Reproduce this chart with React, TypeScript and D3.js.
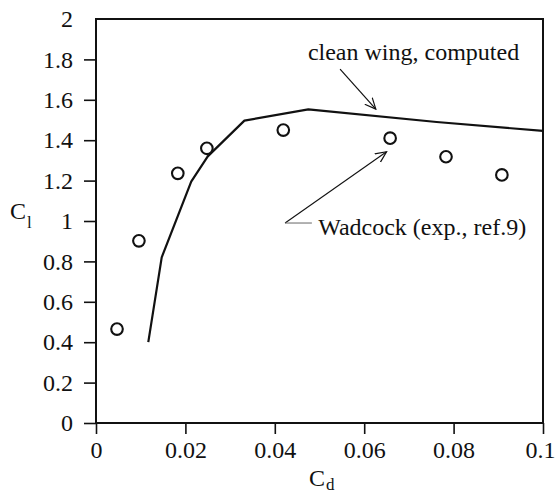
import { useEffect, useRef } from "react";
import * as d3 from "d3";

const width = 556;
const height = 495;
const marginLeft = 96;
const marginRight = 13;
const marginTop = 19;
const marginBottom = 72;

// Wadcock experiment (circles)
const expCd = [0.0047, 0.0096, 0.0183, 0.0248, 0.0419, 0.0658, 0.0783, 0.0908];
const expCl = [0.465, 0.902, 1.236, 1.36, 1.45, 1.41, 1.318, 1.228];

// clean wing, computed (line)
const compCd = [0.0117, 0.0147, 0.0213, 0.025, 0.0332, 0.0475, 0.0762, 0.1];
const compCl = [0.4, 0.82, 1.195, 1.32, 1.497, 1.553, 1.49, 1.446];

const xTicks = [0, 0.02, 0.04, 0.06, 0.08, 0.1];
const yTicks = [0, 0.2, 0.4, 0.6, 0.8, 1, 1.2, 1.4, 1.6, 1.8, 2];

const font = "'Liberation Serif', 'Times New Roman', serif";
const fontSize = 24;

const App = () => {
	const xRef = useRef<SVGGElement>(null);
	const yRef = useRef<SVGGElement>(null);

	const x = d3
		.scaleLinear()
		.domain([0, 0.1])
		.range([marginLeft, width - marginRight]);
	const y = d3
		.scaleLinear()
		.domain([0, 2])
		.range([height - marginBottom, marginTop]);

	useEffect(() => {
		const xAxis = d3
			.axisBottom(x)
			.tickValues(xTicks)
			.tickSize(11)
			.tickPadding(7)
			.tickFormat((d) => String(+d));
		const yAxis = d3
			.axisLeft(y)
			.tickValues(yTicks)
			.tickSize(12)
			.tickPadding(11)
			.tickFormat((d) => String(+d));

		const gx = d3.select(xRef.current).call(xAxis);
		const gy = d3.select(yRef.current).call(yAxis);
		for (const g of [gx, gy]) {
			g.select(".domain").remove();
			g.selectAll("line").attr("stroke", "#111").attr("stroke-width", 1.6);
			g.selectAll("text")
				.attr("fill", "#111")
				.style("font-family", font)
				.style("font-size", `${fontSize}px`);
		}
		// keep the last x label inside the page
		gx.selectAll<SVGGElement, number>(".tick")
			.filter((d) => d === 0.1)
			.select("text")
			.attr("dx", -3);
		// no tick mark at the top value
		gy.selectAll<SVGGElement, number>(".tick")
			.filter((d) => d === 2)
			.select("line")
			.remove();
	}, []);

	const line = d3
		.line<number>()
		.x((d) => x(d))
		.y((_, i) => y(compCl[i]));

	return (
		<svg width={width} height={height} style={{ display: "block", position: "absolute", left: 0, top: 0 }}>
			<defs>
				<marker
					id="arrow"
					viewBox="0 0 12 12"
					refX={11}
					refY={6}
					markerWidth={12}
					markerHeight={12}
					markerUnits="userSpaceOnUse"
					orient="auto"
				>
					<path d="M0,1 L11,6 L0,11" fill="none" stroke="#111" strokeWidth={1.2} />
				</marker>
			</defs>
			<rect width={width} height={height} fill="#fff" />
			<rect
				x={x(0)}
				y={y(2)}
				width={x(0.1) - x(0)}
				height={y(0) - y(2)}
				fill="none"
				stroke="#111"
				strokeWidth={2}
			/>
			<g ref={xRef} transform={`translate(0,${y(0)})`} />
			<g ref={yRef} transform={`translate(${x(0)},0)`} />

			<path d={line(compCd) ?? ""} fill="none" stroke="#111" strokeWidth={2.2} strokeLinejoin="round" />

			{expCd.map((d, i) => (
				<circle key={i} cx={x(d)} cy={y(expCl[i])} r={5.8} fill="none" stroke="#111" strokeWidth={2.1} />
			))}

			{/* annotations */}
			<text x={x(0.0474)} y={y(1.797)} fontFamily={font} fontSize={fontSize} fill="#111">
				clean wing, computed
			</text>
			<line
				x1={x(0.0546)}
				y1={y(1.752)}
				x2={x(0.0626)}
				y2={y(1.554)}
				stroke="#111"
				strokeWidth={1.2}
				markerEnd="url(#arrow)"
			/>
			<line
				x1={x(0.0423)}
				y1={y(0.99)}
				x2={x(0.065)}
				y2={y(1.343)}
				stroke="#111"
				strokeWidth={1.1}
				markerEnd="url(#arrow)"
			/>
			<line x1={x(0.0423)} y1={y(0.99)} x2={x(0.0483)} y2={y(0.99)} stroke="#666" strokeWidth={1} />
			<text x={x(0.0497)} y={y(0.93)} fontFamily={font} fontSize={fontSize} fill="#111">
				Wadcock (exp., ref.9)
			</text>

			{/* axis titles */}
			<text x={10} y={219} fontFamily={font} fontSize={fontSize} fill="#111">
				C
				<tspan dx={1} dy={9} fontSize={17}>
					l
				</tspan>
			</text>
			<text x={309} y={486} fontFamily={font} fontSize={fontSize} fill="#111">
				C
				<tspan dx={1} dy={4} fontSize={17}>
					d
				</tspan>
			</text>
		</svg>
	);
};

export default App;
